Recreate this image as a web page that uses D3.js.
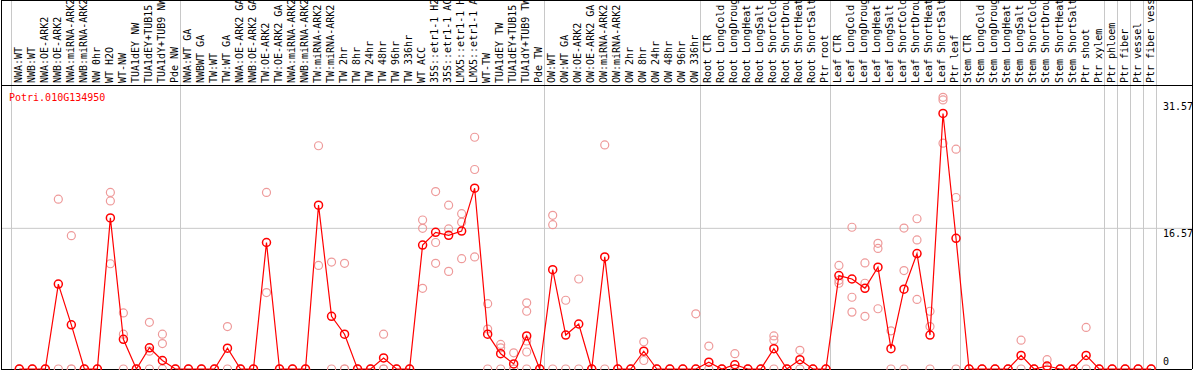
<!DOCTYPE html>
<meta charset="utf-8">
<head>
<style>
body { margin: 0; background: #fff; }
text { font-family: "DejaVu Sans Mono", monospace; font-size: 10px; }
</style>
</head>
<body>
<script src="https://d3js.org/d3.v7.min.js"></script>
<script>

var geneId = "Potri.010G134950";

var categories = [
  "NWA:WT", "NWB:WT", "NWA:OE-ARK2", "NWB:OE-ARK2", "NWA:miRNA-ARK2", "NWB:miRNA-ARK2",
  "NW 0hr", "WT H2O", "WT-NW", "TUA1dEY NW", "TUA1dEY+TUB15 NW", "TUA1dY+TUB9 NW", "Pde NW",
  "NWA:WT GA", "NWBWT GA", "TW:WT", "TW:WT GA", "NWA:OE-ARK2 GA", "NWB:OE-ARK2 GA",
  "TW:OE-ARK2", "TW:OE-ARK2 GA", "NWA:miRNA-ARK2", "NWB:miRNA-ARK2", "TW:miRNA-ARK2", "TW:miRNA-ARK2",
  "TW 2hr", "TW 8hr", "TW 24hr", "TW 48hr", "TW 96hr", "TW 336hr", "WT ACC",
  "35S::etr1-1 H2O", "35S::etr1-1 ACC", "LMX5::etr1-1 H2O", "LMX5::etr1-1 ACC",
  "WT-TW", "TUA1dEY TW", "TUA1dEY+TUB15 TW", "TUA1dY+TUB9 TW", "Pde TW",
  "OW:WT", "OW:WT GA", "OW:OE-ARK2", "OW:OE-ARK2 GA", "OW:miRNA-ARK2", "OW:miRNA-ARK2",
  "OW 2hr", "OW 8hr", "OW 24hr", "OW 48hr", "OW 96hr", "OW 336hr",
  "Root CTR", "Root LongCold", "Root LongDrought", "Root LongHeat", "Root LongSalt",
  "Root ShortCold", "Root ShortDrought", "Root ShortHeat", "Root ShortSalt", "Ptr root",
  "Leaf CTR", "Leaf LongCold", "Leaf LongDrought", "Leaf LongHeat", "Leaf LongSalt",
  "Leaf ShortCold", "Leaf ShortDrought", "Leaf ShortHeat", "Leaf ShortSalt", "Ptr leaf",
  "Stem CTR", "Stem LongCold", "Stem LongDrought", "Stem LongHeat", "Stem LongSalt",
  "Stem ShortCold", "Stem ShortDrought", "Stem ShortHeat", "Stem ShortSalt", "Ptr shoot",
  "Ptr xylem", "Ptr phloem", "Ptr fiber", "Ptr vessel", "Ptr fiber vessel"
];

// mean expression per sample
var means = [
  0, 0, 0, 10.0, 5.2, 0, 0, 17.8, 3.5, 0, 2.5, 1.0, 0,
  0, 0, 0, 2.45, 0, 0, 14.9, 0, 0, 0, 19.3, 6.2, 4.1, 0, 0, 1.3, 0, 0, 14.6,
  16.1, 15.75, 16.25, 21.3, 4.1, 1.8, 0.6, 3.9, 0,
  11.7, 4.0, 5.3, 0, 13.2, 0, 0, 2.1, 0, 0, 0, 0,
  0.8, 0, 0.5, 0, 0, 2.4, 0, 1.1, 0, 0,
  11.0, 10.6, 9.5, 12.0, 2.4, 9.4, 13.6, 4.0, 30.1, 15.4,
  0, 0, 0, 0, 1.6, 0, 0.35, 0, 0, 1.6,
  0, 0, 0, 0, 0
];

// individual replicates per sample
var replicates = [
  [0, 0], [0, 0], [0, 0], [20.0, 0], [15.7, 0, 0], [0, 0], [0, 0], [20.8, 19.8, 12.4], [6.6, 4.1, 0],
  [0, 0], [5.5, 2.1, 0], [4.1, 3.0, 0], [0, 0],
  [0, 0], [0, 0], [0, 0], [5.0, 0], [0, 0], [0, 0], [20.8, 9.0], [0, 0], [0, 0], [0, 0],
  [26.3, 12.2], [12.6, 0], [12.45, 0, 0], [0, 0], [0, 0], [4.1, 0, 0], [0, 0], [0, 0],
  [17.55, 16.57, 9.5], [20.9, 14.9, 12.45], [19.3, 16.5, 11.5], [18.3, 17.3, 13.0],
  [27.3, 23.5, 13.2], [7.7, 4.7, 0], [2.9, 2.5, 0], [1.9, 0, 0], [7.8, 6.8, 3.3, 2.0, 0], [0, 0],
  [18.1, 17.0, 0], [8.1, 0], [10.6, 0], [0, 0], [26.4, 0], [0, 0], [0, 0], [3.2, 1.0], [0, 0],
  [0, 0], [0, 0], [6.5, 0],
  [2.7, 0], [0, 0], [1.8, 0], [0, 0], [0, 0], [3.9, 3.4, 0], [0, 0], [2.2, 0], [0, 0], [0, 0],
  [12.2, 10.45, 10.1], [16.7, 8.45, 6.7], [12.5, 10.1, 6.2], [14.8, 14.2, 7.1], [4.5, 0],
  [16.6, 11.6, 0], [17.7, 15.2, 8.2], [6.8, 5.0, 0], [32.0, 31.7, 26.6], [25.9, 20.2, 0],
  [0, 0], [0, 0], [0, 0], [0, 0], [3.4, 0], [0, 0], [1.1, 0], [0, 0], [0, 0], [4.9, 0],
  [0, 0], [0, 0], [0, 0], [0, 0], [0, 0]
];

// index of first sample in each block, last entry closes the final block
var groupBreaks = [0, 13, 41, 53, 63, 73, 84, 85, 86, 87, 88];

var yTicks = [31.57, 16.57, 0];

var width = 1194, height = 370,
    labelBottom = 85, plotBottom = 369;

var svg = d3.select("body").append("svg")
    .attr("width", width)
    .attr("height", height);

var x = d3.scaleBand()
    .domain(d3.range(categories.length))
    .range([10.7, 10.7 + 13.01 * categories.length]);

var y = d3.scaleLinear()
    .domain([0, 31.57])
    .range([plotBottom, 101]);

function px(i) { return x(i) + 8.6; }
function edge(i) { return i < categories.length ? x(i) : x.range()[1]; }

// grid
svg.append("line")
    .attr("x1", 1).attr("x2", 1192)
    .attr("y1", y(16.57)).attr("y2", y(16.57))
    .style("stroke", "#c8c8c8");

svg.selectAll(".vgrid")
    .data(groupBreaks)
  .enter().append("line")
    .attr("class", "vgrid")
    .attr("x1", function(d) { return Math.round(edge(d)) + 0.5; })
    .attr("x2", function(d) { return Math.round(edge(d)) + 0.5; })
    .attr("y1", 0).attr("y2", plotBottom)
    .style("stroke", "#c8c8c8");

// frame
var frame = svg.append("g").style("stroke", "#000").style("shape-rendering", "crispEdges");
frame.append("line").attr("x1", 1).attr("x2", 1192).attr("y1", 0.5).attr("y2", 0.5);
frame.append("line").attr("x1", 1).attr("x2", 1192).attr("y1", labelBottom + 0.5).attr("y2", labelBottom + 0.5);
frame.append("line").attr("x1", 1).attr("x2", 1192).attr("y1", plotBottom + 0.5).attr("y2", plotBottom + 0.5);
frame.append("line").attr("x1", 1.5).attr("x2", 1.5).attr("y1", 0).attr("y2", plotBottom);
frame.append("line").attr("x1", 1192.5).attr("x2", 1192.5).attr("y1", 0).attr("y2", plotBottom);

// sample labels
svg.selectAll(".cat")
    .data(categories)
  .enter().append("text")
    .attr("class", "cat")
    .attr("transform", function(d, i) { return "translate(" + (x(i) + 11) + "," + (labelBottom - 2) + ") rotate(-90)"; })
    .style("fill", "#000")
    .text(function(d) { return d; });

// y labels
svg.selectAll(".ytick")
    .data(yTicks)
  .enter().append("text")
    .attr("class", "ytick")
    .attr("x", 1163)
    .attr("y", function(d) { return d === 0 ? y(d) - 4 : y(d) + 8.5; })
    .text(function(d) { return d; });

svg.append("text")
    .attr("x", 9)
    .attr("y", 100.5)
    .style("fill", "#ff0000")
    .text(geneId);

// replicates
var reps = [];
replicates.forEach(function(r, i) { r.forEach(function(v) { reps.push({i: i, v: v}); }); });

svg.selectAll(".rep")
    .data(reps)
  .enter().append("circle")
    .attr("class", "rep")
    .attr("cx", function(d) { return px(d.i); })
    .attr("cy", function(d) { return y(d.v); })
    .attr("r", 4)
    .style("fill", "none")
    .style("stroke", "#ee9a9a")
    .style("stroke-width", 1.2);

var line = d3.line()
    .x(function(d, i) { return px(i); })
    .y(function(d) { return y(d); });

svg.append("path")
    .datum(means)
    .attr("d", line)
    .style("fill", "none")
    .style("stroke", "#ff0000")
    .style("stroke-width", 1.2);

svg.selectAll(".mean")
    .data(means)
  .enter().append("circle")
    .attr("class", "mean")
    .attr("cx", function(d, i) { return px(i); })
    .attr("cy", function(d) { return y(d); })
    .attr("r", 4)
    .style("fill", "none")
    .style("stroke", "#ff0000")
    .style("stroke-width", 1.5);

</script>
</body>
